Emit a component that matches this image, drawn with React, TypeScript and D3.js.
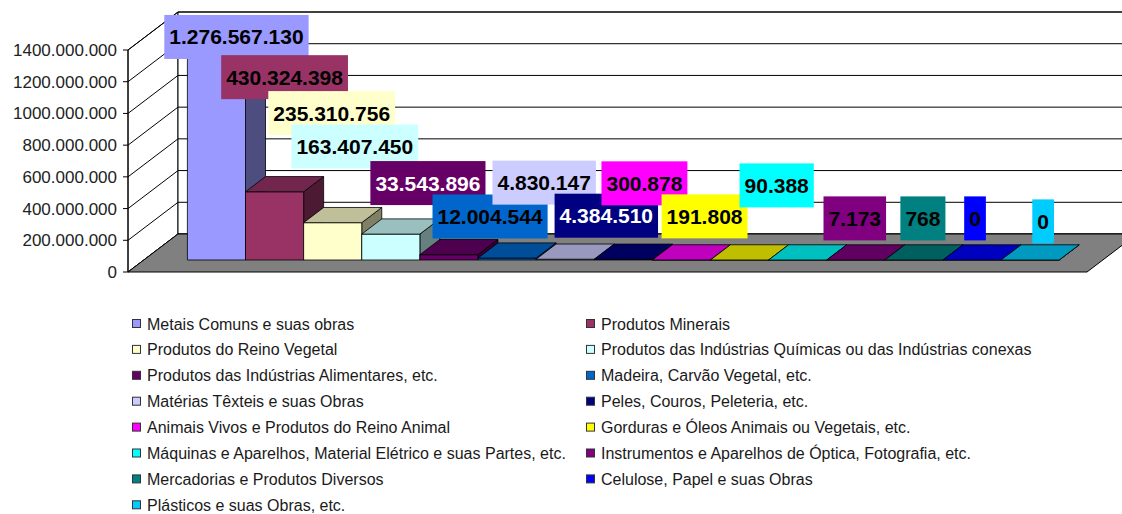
import React, { useEffect, useRef } from "react";
import * as d3 from "d3";

const categories = [
  "Metais Comuns e suas obras",
  "Produtos Minerais",
  "Produtos do Reino Vegetal",
  "Produtos das Indústrias Químicas ou das Indústrias conexas",
  "Produtos das Indústrias Alimentares, etc.",
  "Madeira, Carvão Vegetal, etc.",
  "Matérias Têxteis e suas Obras",
  "Peles, Couros, Peleteria, etc.",
  "Animais Vivos e Produtos do Reino Animal",
  "Gorduras e Óleos Animais ou Vegetais, etc.",
  "Máquinas e Aparelhos, Material Elétrico e suas Partes, etc.",
  "Instrumentos e Aparelhos de Óptica, Fotografia, etc.",
  "Mercadorias e Produtos Diversos",
  "Celulose, Papel e suas Obras",
  "Plásticos e suas Obras, etc.",
];

const values = [
  1276567130, 430324398, 235310756, 163407450, 33543896, 12004544, 4830147,
  4384510, 300878, 191808, 90388, 7173, 768, 0, 0,
];

const colors = [
  "#9999FF", "#993366", "#FFFFCC", "#CCFFFF", "#660066", "#0066CC", "#CCCCFF",
  "#000080", "#FF00FF", "#FFFF00", "#00FFFF", "#800080", "#008080", "#0000FF",
  "#00CCFF",
];

const labelTextColors = [
  "#000", "#000", "#000", "#000", "#fff", "#000", "#000", "#fff", "#000",
  "#000", "#000", "#000", "#000", "#000", "#000",
];

const yTicks = [0, 200e6, 400e6, 600e6, 800e6, 1000e6, 1200e6, 1400e6];

// manual label placement (offset of label box bottom-centre from bar top centre)
const labelShift: [number, number][] = [
  [10, 9], [0, -85], [-11, -80], [-46, -58], [-31, -42], [-27, -12],
  [-31, -47], [-27, -14], [-47, -47], [-45, -14], [-31, -45], [-11, -12],
  [-1, -12], [-7, -12], [3, -9],
];

const W = 1122;
const H = 514;
const DX = 50;
const DY = 38;
const F0 = 0.316;
const F1 = 0.716;

function shade(c: string, k: number) {
  const r = d3.rgb(c);
  return d3.rgb(r.r * k, r.g * k, r.b * k).formatHex();
}

function pad3(n: number) {
  return String(n).padStart(3, "0");
}
function tickFmt(v: number) {
  if (v === 0) return "0";
  return `${Math.floor(v / 1e6)}.${pad3(Math.floor(v / 1e3) % 1000)}.${pad3(v % 1000)}`;
}
const ptLocale = d3.formatLocale({
  decimal: ",",
  thousands: ".",
  grouping: [3],
  currency: ["", ""],
});
const labelFmt = ptLocale.format(",d");

export default function App() {
  const ref = useRef<SVGSVGElement | null>(null);

  useEffect(() => {
    document.body.style.margin = "0";
    const svg = d3.select(ref.current);
    svg.selectAll("*").remove();

    const x = d3
      .scaleBand<string>()
      .domain(categories)
      .range([128, 1087])
      .paddingInner(0)
      .paddingOuter(0.75);
    const y = d3.scaleLinear().domain([0, 1400e6]).range([272, 50]);

    const P = (px: number, v: number, d: number): [number, number] => [
      px + d * DX,
      y(v) - d * DY,
    ];
    const poly = (pts: [number, number][]) =>
      pts.map((p) => p.join(",")).join(" ");

    const xL = x.range()[0];
    const xR = x.range()[1];
    const vMax = yTicks[yTicks.length - 1];

    // side wall
    svg
      .append("polygon")
      .attr("points", poly([P(xL, 0, 0), P(xL, vMax, 0), P(xL, vMax, 1), P(xL, 0, 1)]))
      .attr("fill", "#fff")
      .attr("stroke", "#000")
      .attr("stroke-width", 1);
    // back wall
    svg
      .append("polygon")
      .attr("points", poly([P(xL, 0, 1), P(xL, vMax, 1), P(xR, vMax, 1), P(xR, 0, 1)]))
      .attr("fill", "#fff")
      .attr("stroke", "#000")
      .attr("stroke-width", 1);

    // gridlines
    const grid = svg.append("g").attr("fill", "none").attr("stroke", "#000").attr("stroke-width", 1);
    yTicks.forEach((v) => {
      grid
        .append("polyline")
        .attr("points", poly([P(xL, v, 0), P(xL, v, 1), P(xR, v, 1)]));
    });

    // floor
    svg
      .append("polygon")
      .attr("points", poly([P(xL, 0, 0), P(xR, 0, 0), P(xR, 0, 1), P(xL, 0, 1)]))
      .attr("fill", "#808080")
      .attr("stroke", "#000")
      .attr("stroke-width", 1);

    // axis
    svg
      .append("line")
      .attr("x1", xL)
      .attr("x2", xL)
      .attr("y1", y(0))
      .attr("y2", y(vMax))
      .attr("stroke", "#000");
    const ax = svg.append("g");
    yTicks.forEach((v) => {
      ax.append("line")
        .attr("x1", xL - 5)
        .attr("x2", xL)
        .attr("y1", y(v))
        .attr("y2", y(v))
        .attr("stroke", "#000");
      ax.append("text")
        .attr("x", xL - 11)
        .attr("y", y(v) + 6)
        .attr("text-anchor", "end")
        .attr("font-family", "'Liberation Sans', Arial, sans-serif")
        .attr("font-size", 17)
        .attr("fill", "#222")
        .text(tickFmt(v));
    });

    // bars
    const bars = svg.append("g").attr("stroke", "#000").attr("stroke-width", 0.8).attr("stroke-linejoin", "round");
    categories.forEach((c, i) => {
      const v = values[i];
      const x0 = x(c)!;
      const x1 = x0 + x.bandwidth();
      const col = colors[i];
      bars
        .append("polygon")
        .attr("points", poly([P(x1, 0, F0), P(x1, 0, F1), P(x1, v, F1), P(x1, v, F0)]))
        .attr("fill", shade(col, 0.5));
      bars
        .append("polygon")
        .attr("points", poly([P(x0, 0, F0), P(x1, 0, F0), P(x1, v, F0), P(x0, v, F0)]))
        .attr("fill", col);
      bars
        .append("polygon")
        .attr("points", poly([P(x0, v, F0), P(x1, v, F0), P(x1, v, F1), P(x0, v, F1)]))
        .attr("fill", shade(col, 0.75));
    });

    // labels
    const lab = svg.append("g");
    categories.forEach((c, i) => {
      const v = values[i];
      const cx = x(c)! + x.bandwidth() / 2;
      const [ax0, ay0] = P(cx, v, (F0 + F1) / 2);
      const bx = ax0 + labelShift[i][0];
      const by = ay0 + labelShift[i][1];
      const g = lab.append("g");
      const rect = g.append("rect").attr("fill", colors[i]);
      const t = g
        .append("text")
        .attr("x", bx)
        .attr("y", by - 22 + 7.5)
        .attr("text-anchor", "middle")
        .attr("font-family", "'Liberation Sans', Arial, sans-serif")
        .attr("font-weight", "bold")
        .attr("font-size", 21)
        .attr("fill", labelTextColors[i])
        .text(labelFmt(v));
      const tw = (t.node() as SVGTextElement).getComputedTextLength();
      rect
        .attr("x", bx - tw / 2 - 5)
        .attr("y", by - 44)
        .attr("width", tw + 10)
        .attr("height", 44);
    });

    // legend
    const leg = svg.append("g");
    const colX = [132, 586];
    categories.forEach((c, i) => {
      const col = i % 2;
      const row = Math.floor(i / 2);
      const cy = 324 + row * 25.9;
      leg
        .append("rect")
        .attr("x", colX[col] + 0.5)
        .attr("y", cy - 4.5)
        .attr("width", 8)
        .attr("height", 8)
        .attr("fill", colors[i])
        .attr("stroke", "#333")
        .attr("stroke-width", 1);
      leg
        .append("text")
        .attr("x", colX[col] + 15)
        .attr("y", cy + 5.5)
        .attr("font-family", "'Liberation Sans', Arial, sans-serif")
        .attr("font-size", 16)
        .attr("fill", "#1a1a1a")
        .text(c);
    });
  }, []);

  return (
    <svg
      ref={ref}
      width={W}
      height={H}
      style={{ display: "block", background: "#fff", overflow: "hidden" }}
    />
  );
}
